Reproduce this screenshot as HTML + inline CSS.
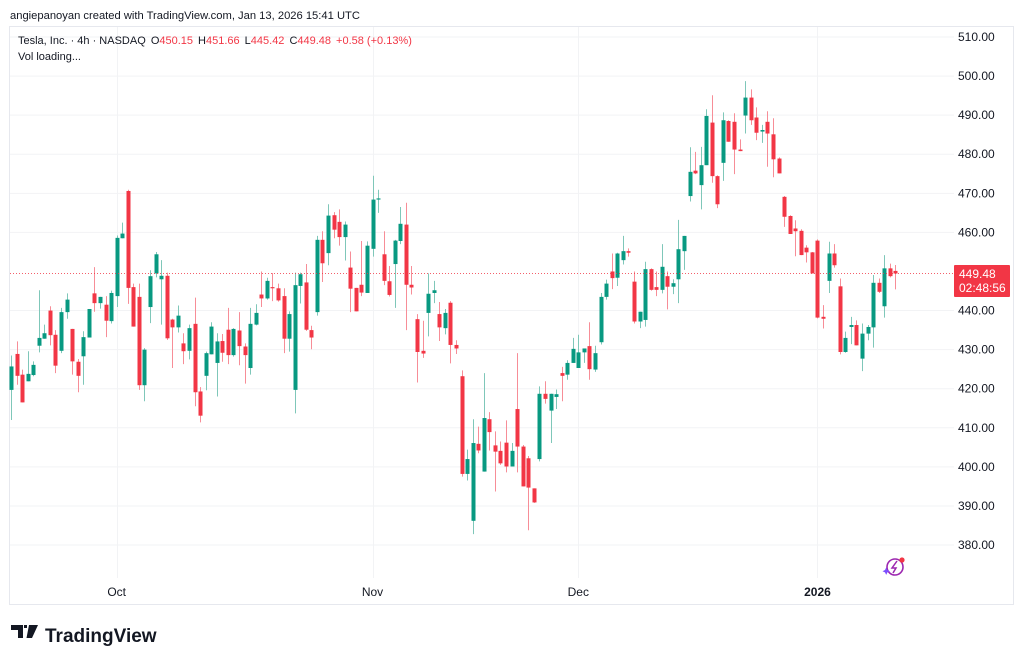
<!DOCTYPE html>
<html><head><meta charset="utf-8"><style>
html,body{margin:0;padding:0;background:#fff;width:1024px;height:661px;overflow:hidden}
svg text{font-family:"Liberation Sans","DejaVu Sans",sans-serif}
</style></head><body>
<svg id="chart" width="1024" height="661" viewBox="0 0 1024 661" xmlns="http://www.w3.org/2000/svg">
<text x="10" y="19" font-size="11.2" fill="#131722">angiepanoyan created with TradingView.com, Jan 13, 2026 15:41 UTC</text>
<rect x="9.5" y="26.5" width="1004" height="578" fill="none" stroke="#e6e8ee"/>
<g id="grid"></g>
<g id="candles"></g>
<line id="lastline" x1="10" x2="954" stroke="#f23645" stroke-width="1" stroke-dasharray="1,2" opacity="0.8"/>
<g id="yaxis"></g>
<g id="xaxis"></g>
<text x="18" y="44" font-size="11" fill="#131722">Tesla, Inc. · 4h · NASDAQ <tspan dx="2">O</tspan><tspan fill="#f23645">450.15</tspan><tspan dx="5">H</tspan><tspan fill="#f23645">451.66</tspan><tspan dx="5">L</tspan><tspan fill="#f23645">445.42</tspan><tspan dx="5">C</tspan><tspan fill="#f23645">449.48</tspan><tspan dx="5" fill="#f23645">+0.58 (+0.13%)</tspan></text>
<text x="18" y="60" font-size="11" fill="#131722">Vol loading...</text>
<g>
<rect x="954" y="265" width="56" height="32" rx="1" fill="#f23645"/>
<text x="959" y="278" font-size="12" fill="#fff">449.48</text>
<text x="959" y="292" font-size="12" fill="#fff">02:48:56</text>
</g>
<g>
<circle cx="895" cy="567" r="8" fill="none" stroke="#9c27b0" stroke-width="1.6"/>
<path d="M897 561 L892 568 L896 568 L893 573" fill="none" stroke="#9c27b0" stroke-width="1.5"/>
<path d="M885 570 l1.2 -2.5 l1.2 2.5 l2.5 1.2 l-2.5 1.2 l-1.2 2.5 l-1.2 -2.5 l-2.5 -1.2z" fill="#7c4dff"/>
<circle cx="902" cy="560" r="2.6" fill="#f23645"/>
</g>
<g>
<path d="M11 625 h12 v13 h-5 v-8 h-7z M24 625 h3 v3 h-3z M29 625 h9 l-6 13 h-5.5z" fill="#131722"/>
<text x="45" y="642" font-size="19" font-weight="bold" fill="#131722">TradingView</text>
</g>
</svg>
<script>
const opens=[419.7,428.9,423.6,421.9,423.5,431,432.8,440,433.8,429.7,439.6,435.3,426.9,428.3,433.1,444.4,441.9,441.5,437.3,443.7,458.5,470.6,446,443.5,420.9,440.9,449.5,448,448.9,437.7,435.7,431.6,429.7,436.6,419.3,423.3,428.8,426.6,432.2,435.1,428.6,434.9,430.8,425.3,436.4,444.1,443.1,446,445.7,443.7,432.8,419.7,446.3,447.2,435,439.6,458.1,454.7,464.4,462.7,458.8,451,445.8,446.6,444.5,455.8,468.4,454.4,447.5,451.9,457.8,462,446.6,437.8,429.7,439.4,444.5,439.1,435.5,442,431.2,423.2,398.2,386.2,405.9,398.8,412.2,405.5,404.1,406.2,400.1,414.8,405.2,402.2,394.5,402,418.7,414.4,417.9,424,423.6,426.6,425.3,429.3,430.9,424.9,431.9,443.5,450,448.4,452.9,455.2,447.4,437.2,437.6,450.6,446,445.3,448.8,446.1,448,455.2,469.3,475.8,472.1,477.2,488.1,474.4,477.8,488.5,488.3,481.2,489.9,494.5,489.4,485.8,488.3,485.1,478.9,469.1,464.2,461,460.4,456.1,454.9,457.9,438.4,447.6,454.6,446.2,429.4,435.8,436.3,427.7,434.1,435.7,447.1,441.1,450.8,450.15];
const highs=[428.5,432.1,424.9,429.6,427,445.2,436.4,441.1,435,440.7,444.4,435.3,427.6,434.7,440.4,451.1,443.5,443.7,445.1,459.2,462.5,470.9,446.9,446.9,430.4,450.3,455,452.9,449.7,437.9,441.3,434.2,436.4,443.3,420.4,429.5,437,434.2,434,440.7,435.5,439.6,431.6,440.7,441.6,450,448.4,449.6,446.9,445.7,439.8,449.7,449.7,451.9,436.1,459.1,460.3,467.2,465.2,465.9,462.8,455.1,445.8,457.8,457.7,474.5,470.9,460.3,451.4,458.1,466.5,467.6,451.4,439.1,437.4,449.5,447.6,442.2,440.4,442.4,432.4,424.7,404.4,412.2,410.3,424,414,409.1,406.5,411.9,406.1,429.1,405.6,402.8,394.5,420.6,421.9,418.7,419.8,425.6,427.3,433,433.8,430.3,437,431,444.5,447.9,454.6,454.8,459.1,455.9,450,439.7,452.5,450.8,450,457,450,448,463.2,459.1,481.8,480.6,481.9,491.5,495.1,474.6,490.7,488.7,490.5,483.8,498.7,496.6,492,487.5,491,489.2,479.2,469.3,464.4,463.1,460.8,456.7,455,458.2,441.4,457.6,457,448.2,434.6,438.4,437.5,436.7,436.3,449.1,448.2,454.2,452,451.66];
const lows=[412,421,416.5,421.9,423.2,429.3,432.8,431.1,424,429.1,437.9,423.6,419.1,421,433.1,439.7,440.5,433.2,436.7,440.9,458.5,441.7,435.9,419.7,416.8,436.8,448.5,436.4,432.5,425.3,434.4,426.3,427.5,415.5,411.4,419.6,428.8,418,426.9,426.3,428.2,426,421.3,423.6,436.2,440.9,442.8,442.4,442.3,429.1,429.5,413.7,441.8,434.8,430.1,438.7,447.3,451.6,458.5,456.6,452.8,439.6,439.8,443.7,444.5,453.8,465,446.5,443.6,440.7,457,435,444.1,421.6,427.9,433.4,441.9,432.2,433.9,426.5,428.9,397.5,396.5,382.8,403.5,398.8,404.2,393.7,400.5,398.6,400.1,398.6,395,383.8,390.8,401.4,416.2,406.1,414.8,416.8,422.3,426.6,425.3,426.6,422.3,424.3,431.3,442.8,445.5,446.3,451.8,453.8,436.7,435.5,435.9,445.1,443.7,444.4,440.3,444.2,441.9,450.4,467.9,474.9,465.9,477.2,472.7,466.2,473.2,483.2,474.9,480.8,485.3,487.5,483.6,482.9,476.8,474.1,475.1,461.4,459.6,453.9,454.2,452.3,449.5,438,435.4,444.5,451,428.8,429.2,431.4,431.1,424.5,432.4,430.5,444.5,438.2,448.5,445.42];
const closes=[425.7,423.3,416.5,423.8,426.1,433,434.2,433.7,425.9,439.6,442.8,427,423.3,433.2,440.4,441.9,443.5,437.4,444.5,458.6,459.7,445.8,435.9,420.9,430,448.8,454.4,448.9,432.9,435.7,438.7,429.6,435.5,419.1,413.1,429.1,435.9,432.1,429.2,428.6,435.3,430.9,428.6,436.6,439.4,443.1,447.6,445.7,442.6,432.8,439.1,446.5,449.3,435.1,433.1,458.1,452.1,464.3,460.7,458.8,462,445.6,439.8,444.6,456.6,468.4,468.7,447.6,444,457.9,462.2,446.6,445.9,429.4,429,444.3,445.2,435.7,439.4,431.2,430.3,398.2,402,406.1,404.2,412.5,408.9,403.9,400.9,400.1,404.1,405.2,395,394.7,390.9,418.7,417.4,418.7,418.6,423.3,426.6,430.2,429.3,430.3,425,429.1,443.5,446.9,448.3,454.6,455.2,454.8,437.2,439.7,450.6,445.3,445.3,451.2,446.1,447,455.7,459.1,475.5,475.1,477.2,489.8,474.4,467.2,488.7,483.2,481.2,480.8,494.5,488.7,485.5,486.2,485.3,478.7,475.1,464,459.6,460.3,454.2,454.9,449.5,438.2,437.9,454.6,451.6,429.4,433,436.3,431.1,434.1,435.8,447.1,444.8,450.8,448.8,449.48];
const priceTicks=[510,500,490,480,470,460,450,440,430,420,410,400,390,380];
const gridTicks=[510,500,490,480,470,460,440,430,420,410,400,390,380];
const timeLabels=["Oct","Nov","Dec","2026"];
const timeLabelIndex=[19,65,102,145];
const lastPrice=449.48;

const NS="http://www.w3.org/2000/svg";
function yScale(p){return 37+(510-p)*3.908;}
function xScale(i){return 11+i*5.562;}
function mk(tag,attrs,parent){const e=document.createElementNS(NS,tag);for(const k in attrs)e.setAttribute(k,attrs[k]);parent.appendChild(e);return e;}

const grid=document.getElementById('grid');
gridTicks.forEach(function(t){
  const l=mk('line',{x1:10,x2:954,y1:yScale(t),y2:yScale(t),stroke:'#f2f3f5','stroke-width':1},grid);
  
  
});
timeLabelIndex.forEach(function(ix){
  const x=Math.round(xScale(ix))+0.5;
  const l=mk('line',{x1:x,x2:x,y1:27,y2:578,stroke:'#f2f3f5','stroke-width':1},grid);
  
  
});

const yax=document.getElementById('yaxis');
priceTicks.forEach(function(t){
  if(t===450)return;
  const tx=mk('text',{x:958,y:yScale(t)+4,'font-size':12,fill:'#131722'},yax);
  tx.textContent=t.toFixed(2);
  
  
});

const xax=document.getElementById('xaxis');
timeLabels.forEach(function(lb,k){
  const tx=mk('text',{x:xScale(timeLabelIndex[k]),y:596,'font-size':12,fill:'#131722','text-anchor':'middle','font-weight':lb==='2026'?'bold':'normal'},xax);
  tx.textContent=lb;
  
  
});

const cg=document.getElementById('candles');
for(let i=0;i<opens.length;i++){
  const o=opens[i],h=highs[i],l=lows[i],c=closes[i];
  const up=c>=o;
  const col=up?'#089981':'#f23645';
  const wcol=up?'#7fc7b9':'#f78d97';
  const x=Math.round(xScale(i));
  const g=mk('g',{},cg);
  
  
  mk('line',{x1:x+0.5,x2:x+0.5,y1:yScale(h),y2:yScale(l),stroke:wcol,'stroke-width':1},g);
  const top=yScale(Math.max(o,c)),bot=yScale(Math.min(o,c));
  mk('rect',{x:x-1.5,y:top,width:4,height:Math.max(1,bot-top),fill:col},g);
}
const ll=document.getElementById('lastline');
ll.setAttribute('y1',yScale(lastPrice));
ll.setAttribute('y2',yScale(lastPrice));
</script>
</body></html>
